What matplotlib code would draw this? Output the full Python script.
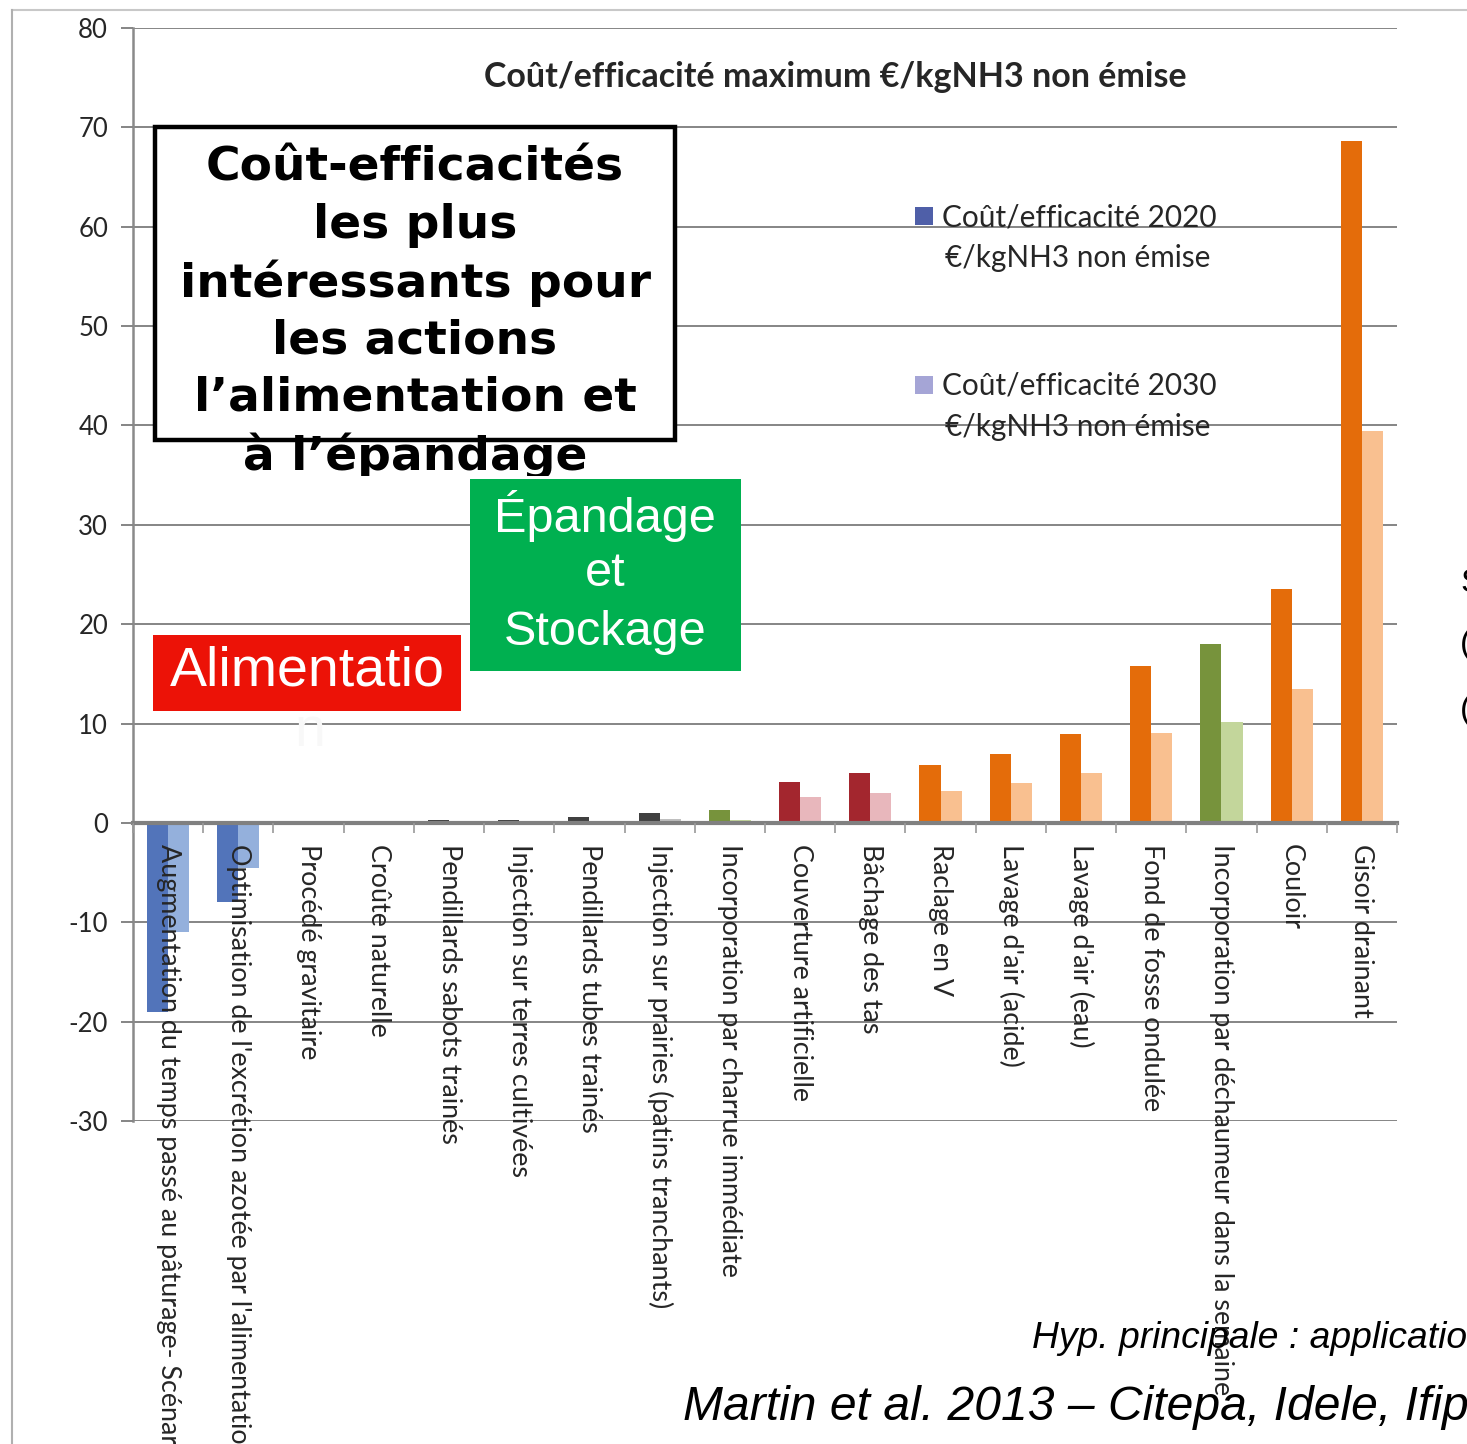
import matplotlib
matplotlib.use("Agg")
import matplotlib.pyplot as plt
import numpy as np
from matplotlib.patches import Rectangle
from matplotlib.lines import Line2D
from matplotlib.transforms import Bbox, TransformedBbox

# ---------------- data ----------------
categories = [
    "Augmentation du temps passé au pâturage- Scénario 1",
    "Optimisation de l'excrétion azotée par l'alimentation",
    "Procédé gravitaire",
    "Croûte naturelle",
    "Pendillards sabots trainés",
    "Injection sur terres cultivées",
    "Pendillards tubes trainés",
    "Injection sur prairies (patins tranchants)",
    "Incorporation par charrue immédiate",
    "Couverture artificielle",
    "Bâchage des tas",
    "Raclage en V",
    "Lavage d'air (acide)",
    "Lavage d'air (eau)",
    "Fond de fosse ondulée",
    "Incorporation par déchaumeur dans la semaine",
    "Couloir",
    "Gisoir drainant",
]
cost_2020 = [-19.0, -8.0, 0.0, 0.0, 0.3, 0.3, 0.6, 1.0, 1.3, 4.1, 5.0, 5.8,
             6.9, 8.9, 15.8, 18.0, 23.5, 68.6]
cost_2030 = [-11.0, -4.5, 0.0, 0.0, 0.0, 0.0, 0.1, 0.4, 0.3, 2.6, 3.0, 3.2,
             4.0, 5.0, 9.0, 10.2, 13.5, 39.4]
colors_2020 = ["#5274BA", "#5274BA", "#404040", "#404040", "#404040", "#404040",
               "#404040", "#404040", "#77933C", "#A3262E", "#A3262E", "#E46C0A",
               "#E46C0A", "#E46C0A", "#E46C0A", "#77933C", "#E46C0A", "#E46C0A"]
colors_2030 = ["#94B0DC", "#94B0DC", "#BFBFBF", "#BFBFBF", "#BFBFBF", "#BFBFBF",
               "#BFBFBF", "#BFBFBF", "#C3D69B", "#E8B7BC", "#E8B7BC", "#F9C090",
               "#F9C090", "#F9C090", "#F9C090", "#C3D69B", "#F9C090", "#F9C090"]
legend_labels = ["Coût/efficacité 2020\n€/kgNH3 non émise",
                 "Coût/efficacité 2030\n€/kgNH3 non émise"]
legend_colors = ["#4F5FA8", "#A5A5D6"]
title = "Coût/efficacité maximum €/kgNH3 non émise"
yticks = [-30, -20, -10, 0, 10, 20, 30, 40, 50, 60, 70, 80]

box_lines = ["Coût-efficacités", "les plus", "intéressants pour",
             "les actions", "l\u2019alimentation et", "à l\u2019épandage"]

# ---------------- figure ----------------
W, H = 1467, 1444
fig = plt.figure(figsize=(W / 100, H / 100), dpi=100)
fig.patch.set_facecolor("white")


def fx(x):
    return x / W


def fy(y):
    return 1 - y / H


ax = fig.add_axes([fx(133), fy(1121), (1397 - 133) / W, (1121 - 28) / H])
x = np.arange(len(categories))
bw = 0.30
for v in yticks:
    ax.axhline(v, color="#858585", linewidth=1.4, zorder=0.5)
ax.bar(x - bw / 2, cost_2020, width=bw, color=colors_2020, zorder=2)
ax.bar(x + bw / 2, cost_2030, width=bw, color=colors_2030, zorder=2)
ax.set_axisbelow(False)

ax.set_xlim(-0.5, len(categories) - 0.5)
ax.set_ylim(-30, 80)
ax.set_yticks(yticks)
ax.set_yticklabels([str(v) for v in yticks], fontfamily="Lato", fontsize=18.5,
                   color="#262626")

for s in ["top", "right"]:
    ax.spines[s].set_visible(False)
ax.spines["left"].set_color("#8a8a8a")
ax.spines["left"].set_linewidth(1.8)
ax.spines["bottom"].set_position(("data", 0))
ax.spines["bottom"].set_color("#808080")
ax.spines["bottom"].set_linewidth(3)

ax.tick_params(axis="y", length=9, width=1.4, color="#858585", pad=9)
ax.set_xticks(np.arange(-0.5, len(categories), 1.0))
ax.set_xticklabels([])
ax.tick_params(axis="x", which="major", length=7, width=1.2, color="#9a9a9a")
ax.set_xticks(x, minor=True)
ax.set_xticklabels(categories, minor=True, rotation=270, va="top",
                   ha="center", fontfamily="Lato", fontsize=19.4,
                   color="#262626")
ax.tick_params(axis="x", which="minor", length=0, pad=15)

# title of chart
fig.text(fx(835), fy(77), title, ha="center", va="center",
         fontfamily="Lato", fontweight="bold", fontsize=24.5, color="#262626")

# legend (manual)
for i, (lab, col) in enumerate(zip(legend_labels, legend_colors)):
    ytop = 207 + i * 169
    fig.add_artist(Rectangle((fx(915), fy(ytop + 18)), 18 / W, 18 / H,
                             transform=fig.transFigure, facecolor=col,
                             edgecolor="none", zorder=2))
    l1, l2 = lab.split("\n")
    fig.text(fx(942), fy(ytop + 10), l1, ha="left", va="center",
             fontfamily="Lato", fontsize=21.4, color="#262626", zorder=3)
    fig.text(fx(945), fy(ytop + 51), l2, ha="left", va="center",
             fontfamily="Lato", fontsize=21.4, color="#262626", zorder=3)

# black framed text box
fig.add_artist(Rectangle((fx(155), fy(440)), (675 - 155) / W, (440 - 127) / H,
                         transform=fig.transFigure, facecolor="white",
                         edgecolor="black", linewidth=3.2, zorder=2))
clip = TransformedBbox(Bbox.from_extents(0, fy(476), 1, 1), fig.transFigure)
for i, line in enumerate(box_lines):
    t = fig.text(fx(415), fy(168 + i * 57.6), line, ha="center",
                 va="center", fontfamily="DejaVu Sans", fontweight="bold",
                 fontsize=33.9, color="black", zorder=3)
    t.set_clip_box(clip)
    t.set_clip_on(True)

# red box
fig.add_artist(Rectangle((fx(153), fy(711)), (461 - 153) / W, (711 - 635) / H,
                         transform=fig.transFigure, facecolor="#EC1207",
                         edgecolor="none", zorder=2))
fig.text(fx(170), fy(671), "Alimentatio", ha="left", va="center",
         fontfamily="Liberation Sans", fontsize=40, color="white", zorder=3)
fig.text(fx(310), fy(732), "n", ha="center", va="center",
         fontfamily="Liberation Sans", fontsize=40, color="#f8f8f8", zorder=1.5)

# green box
fig.add_artist(Rectangle((fx(470), fy(671)), (741 - 470) / W, (671 - 479) / H,
                         transform=fig.transFigure, facecolor="#00B050",
                         edgecolor="none", zorder=2))
for i, line in enumerate(["Épandage", "et", "Stockage"]):
    fig.text(fx(605), fy(516 + i * 58), line, ha="center", va="center",
             fontfamily="Liberation Sans", fontsize=35, color="white",
             zorder=3)

# cut-off text at right edge (continues beyond the slide edge)
for yy, ch in [(583, "S"), (645, "("), (710, "(")]:
    fig.text(fx(1460), fy(yy), ch, ha="left", va="center",
             fontfamily="Liberation Sans", fontsize=24, color="black")

# source notes
fig.text(fx(1032), fy(1338), "Hyp. principale : application", ha="left",
         va="center", fontfamily="Liberation Sans", style="italic",
         fontsize=26.8, color="black", zorder=3)
fig.text(fx(683), fy(1407), "Martin et al. 2013 \u2013 Citepa, Idele, Ifip",
         ha="left", va="center", fontfamily="Liberation Sans",
         style="italic", fontsize=34.6, color="black", zorder=3)

# outer frame lines of screenshot
fig.add_artist(Line2D([fx(12), 1], [fy(10), fy(10)], transform=fig.transFigure,
                      color="#c8c8c8", linewidth=1.5))
fig.add_artist(Line2D([fx(12), fx(12)], [fy(10), 0], transform=fig.transFigure,
                      color="#b0b0b0", linewidth=1.5))

fig.savefig("out.png", dpi=100, facecolor="white")
